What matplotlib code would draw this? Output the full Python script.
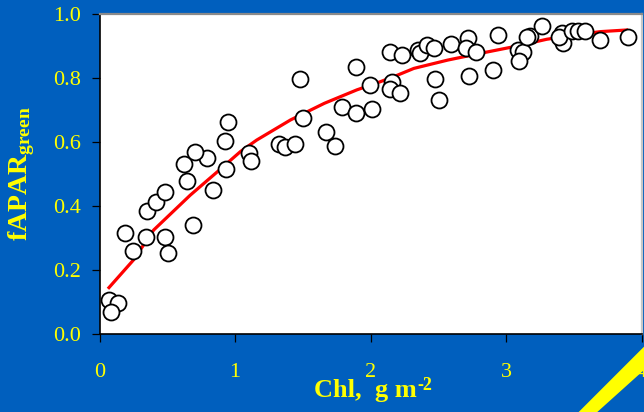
import matplotlib
matplotlib.use("Agg")
import matplotlib.pyplot as plt
from matplotlib.patches import Polygon

# measured points: chlorophyll (g m-2) vs fAPAR green
chl = [0.072, 0.139, 0.083, 0.249, 0.186, 0.341, 0.483, 0.508, 0.353, 0.419,
       0.483, 0.688, 0.648, 0.626, 0.840, 0.791, 0.705, 0.934, 0.946, 0.924,
       1.101, 1.118, 1.325, 1.369, 1.441, 1.478, 1.502, 1.674, 1.738, 1.787,
       1.891, 1.891, 2.009, 1.996, 2.144, 2.157, 2.144, 2.218, 2.235, 2.353,
       2.365, 2.415, 2.471, 2.476, 2.506, 2.594, 2.722, 2.703, 2.779, 2.725,
       2.902, 2.943, 3.091, 3.123, 3.098, 3.177, 3.155, 3.264, 3.411, 3.423,
       3.393, 3.485, 3.534, 3.583, 3.694, 3.903]
fapar = [0.106, 0.096, 0.070, 0.259, 0.315, 0.302, 0.304, 0.254, 0.384, 0.412,
         0.445, 0.341, 0.477, 0.531, 0.450, 0.549, 0.570, 0.516, 0.663, 0.603,
         0.567, 0.542, 0.594, 0.585, 0.593, 0.796, 0.675, 0.631, 0.588, 0.708,
         0.690, 0.833, 0.702, 0.778, 0.882, 0.788, 0.766, 0.752, 0.872, 0.888,
         0.877, 0.903, 0.893, 0.797, 0.731, 0.905, 0.924, 0.893, 0.882, 0.807,
         0.825, 0.934, 0.888, 0.882, 0.854, 0.931, 0.927, 0.963, 0.942, 0.910,
         0.929, 0.948, 0.948, 0.948, 0.919, 0.927]

# fitted curve
fit_x = [0.07, 0.25, 0.40, 0.67, 0.87, 1.04, 1.16, 1.41, 1.66, 1.90, 2.07,
         2.20, 2.32, 2.57, 2.81, 3.06, 3.30, 3.55, 3.70, 3.89]
fit_y = [0.145, 0.231, 0.325, 0.434, 0.507, 0.570, 0.606, 0.669, 0.721, 0.763,
         0.788, 0.809, 0.830, 0.856, 0.877, 0.898, 0.921, 0.937, 0.945, 0.950]

x_ticks = [0, 1, 2, 3, 4]
y_ticks = [0.0, 0.2, 0.4, 0.6, 0.8, 1.0]

bg = "#005fbe"
yellow = "#ffff00"

plt.rcParams["font.family"] = ["Liberation Serif", "DejaVu Serif"]
plt.rcParams["mathtext.fontset"] = "custom"
plt.rcParams["mathtext.rm"] = "Liberation Serif"
plt.rcParams["mathtext.bf"] = "Liberation Serif:bold"
plt.rcParams["mathtext.it"] = "Liberation Serif:italic"

fig = plt.figure(figsize=(6.44, 4.12), dpi=100, facecolor=bg)
ax = fig.add_axes([99.5 / 644, 78 / 412, 542 / 644, 320 / 412])
ax.set_facecolor("white")

ax.plot(fit_x, fit_y, color="#ff0000", lw=2.3, zorder=2)
ax.plot(chl, fapar, "o", ms=11.5, mfc="white", mec="black", mew=1.3,
        zorder=3, clip_on=False)

ax.set_xlim(0, 4)
ax.set_ylim(0, 1)
ax.set_xticks(x_ticks)
ax.set_xticklabels([str(t) for t in x_ticks])
ax.set_yticks(y_ticks)
ax.set_yticklabels(["%.1f" % t for t in y_ticks])

ax.tick_params(axis="x", direction="out", length=6, width=0.9, color="black",
               labelsize=16, labelcolor=yellow, pad=15)
ax.tick_params(axis="y", direction="out", length=6, width=0.9, color="black",
               labelsize=16, labelcolor=yellow, pad=7)

ax.spines["left"].set_color("black")
ax.spines["bottom"].set_color("black")
ax.spines["left"].set_linewidth(1.2)
ax.spines["bottom"].set_linewidth(1.2)
ax.spines["top"].set_color("#8a8a8a")
ax.spines["top"].set_linewidth(1.6)
ax.spines["right"].set_color("#c8c8c8")
ax.spines["right"].set_linewidth(1.6)

# x label with a plain hyphen superscript, as in the slide
ax.set_xlabel("Chl,  g m", fontsize=19, fontweight="bold", color=yellow)
ax.xaxis.set_label_coords(0.49, -0.14)
ax.annotate("-2", xy=(1.0, 1.0), xycoords=ax.xaxis.label, xytext=(1, 1),
            textcoords="offset points", ha="left", va="top",
            fontsize=13, fontweight="bold", color=yellow)

ax.set_ylabel(r"fAPAR$_{\mathbf{green}}$", fontsize=20, fontweight="bold",
              color=yellow)
ax.yaxis.set_label_coords(-0.115, 0.5)

# yellow corner stripe of the slide template
stripe = Polygon([(578.7 / 644, 0), (1.0, (412 - 346.7) / 412),
                  (1.0, (412 - 370) / 412), (597.3 / 644, 0)],
                 closed=True, transform=fig.transFigure, facecolor=yellow,
                 edgecolor="none", zorder=10)
fig.patches.append(stripe)

fig.savefig("out.png", dpi=100, facecolor=bg)
